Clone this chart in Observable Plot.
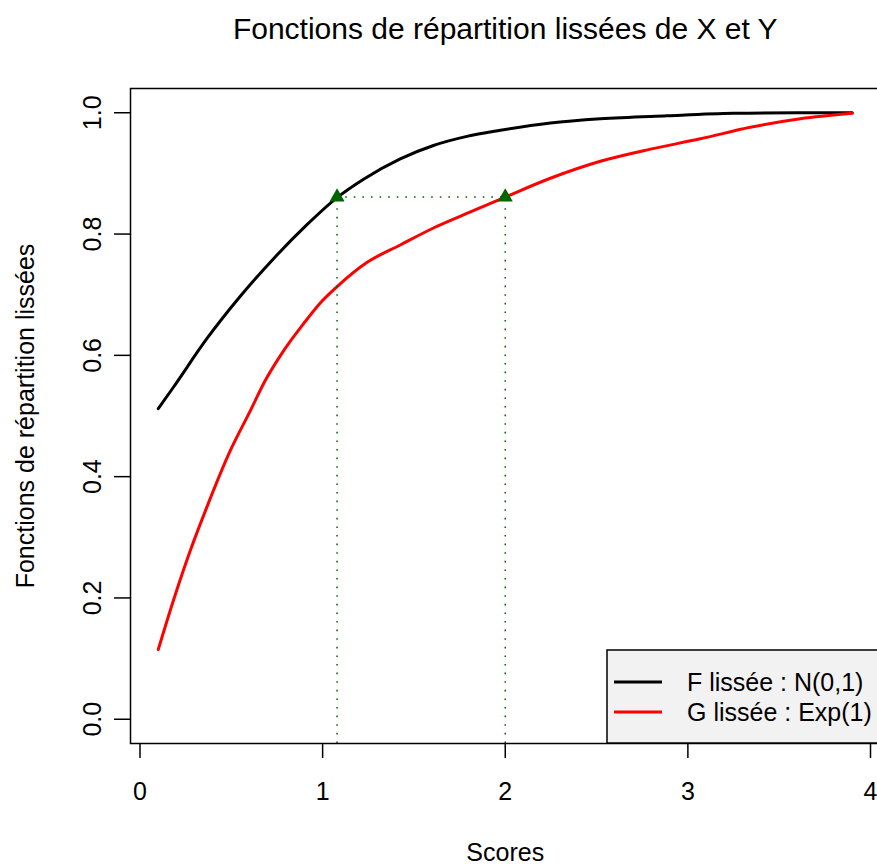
<!DOCTYPE html>
<html>
<head>
<meta charset="utf-8">
<script src="https://cdn.jsdelivr.net/npm/d3@7"></script>
<script src="https://cdn.jsdelivr.net/npm/@observablehq/plot@0.6"></script>
<style>
  html, body { margin: 0; padding: 0; background: white; overflow: hidden; }
  svg { max-width: none !important; }
</style>
</head>
<body>
<div id="chart"></div>
<script>
// Smoothed CDF F (N(0,1))
const Fx = [0.1, 0.182, 0.365, 0.548, 0.73, 0.913, 1.079, 1.222, 1.425, 1.607, 1.79, 1.973, 2.247, 2.521, 2.886, 3.25, 3.6, 3.9];
const Fy = [0.512, 0.547, 0.627, 0.697, 0.759, 0.815, 0.860, 0.890, 0.924, 0.946, 0.961, 0.971, 0.983, 0.990, 0.995, 0.999, 1.0, 1.0];
// Smoothed CDF G (Exp(1))
const Gx = [0.1, 0.182, 0.274, 0.365, 0.493, 0.603, 0.685, 0.785, 0.895, 0.986, 1.078, 1.242, 1.425, 1.607, 1.79, 2.0, 2.247, 2.521, 2.795, 3.068, 3.342, 3.616, 3.9];
const Gy = [0.115, 0.195, 0.277, 0.349, 0.442, 0.508, 0.558, 0.607, 0.652, 0.686, 0.713, 0.753, 0.782, 0.810, 0.834, 0.861, 0.892, 0.920, 0.940, 0.957, 0.976, 0.990, 0.999];
// Quantile comparison points
const qx = [1.079, 2.0];
const qy = 0.861;
// Axes
const xTicks = [0, 1, 2, 3, 4];
const yTicks = [0, 0.2, 0.4, 0.6, 0.8, 1.0];
const ylim = [0, 1];
const legendLabels = ["F lissée : N(0,1)", "G lissée : Exp(1)"];
const legendColors = ["black", "red"];
const titleText = "Fonctions de répartition lissées de X et Y";
const xLabel = "Scores";
const yLabel = "Fonctions de répartition lissées";

const F = Fx.map((x, i) => ({x, y: Fy[i]}));
const G = Gx.map((x, i) => ({x, y: Gy[i]}));

const pad = ([a, b]) => [a - 0.04 * (b - a), b + 0.04 * (b - a)];
const xExt = d3.extent([...Fx, ...Gx]);
const xDomain = pad(xExt);
const yDomain = pad(ylim);

const font = "'Liberation Sans', Arial, Helvetica, sans-serif";

const chart = Plot.plot({
  width: 880,
  height: 864,
  marginLeft: 130,
  marginRight: 0.5,
  marginTop: 88,
  marginBottom: 121,
  style: {fontFamily: font, fontSize: "25px", background: "white", maxWidth: "none", color: "black"},
  x: {domain: xDomain},
  y: {domain: yDomain},
  marks: [
    Plot.line(F, {x: "x", y: "y", stroke: "black", strokeWidth: 3, curve: "monotone-x"}),
    Plot.line(G, {x: "x", y: "y", stroke: "#ff0000", strokeWidth: 3, curve: "monotone-x"}),
    Plot.ruleX(qx, {x: d => d, y1: yDomain[0], y2: qy, stroke: "darkgreen", strokeWidth: 1.5, strokeDasharray: "1.6 7"}),
    Plot.ruleY([qy], {y: d => d, x1: qx[0], x2: qx[1], stroke: "darkgreen", strokeWidth: 1.5, strokeDasharray: "1.6 7"}),
    Plot.dot(qx, {x: d => d, y: qy, symbol: "triangle", fill: "darkgreen", r: 5.6}),
    Plot.frame({stroke: "black", strokeWidth: 1.5}),
    Plot.axisX({ticks: xTicks, tickSize: 15, tickPadding: 24, fontSize: 25, tickFormat: d => String(d), strokeWidth: 1.5, label: null}),
    Plot.axisY({ticks: yTicks, tickSize: 16, tickFormat: () => "", strokeWidth: 1.5, label: null}),
    Plot.text(yTicks, {y: d => d, text: d => d3.format(".1f")(d), frameAnchor: "left", dx: -30, rotate: -90, lineAnchor: "bottom", textAnchor: "middle", fontSize: 25}),
    Plot.text([yLabel], {frameAnchor: "left", dx: -97, rotate: -90, lineAnchor: "bottom", textAnchor: "middle", fontSize: 25}),
    Plot.text([xLabel], {frameAnchor: "bottom", dy: 117, lineAnchor: "bottom", fontSize: 25}),
    Plot.text([titleText], {frameAnchor: "top", dy: -50, lineAnchor: "bottom", fontSize: 30})
  ]
});

document.getElementById("chart").appendChild(chart);

// Legend (bottom-right of plot region, like R's legend("bottomright"))
const xr = chart.scale("x").range;
const yr = chart.scale("y").range;
const right = Math.max(...xr);
const bottom = Math.max(...yr);
const svg = d3.select(chart);
const lg = svg.append("g").attr("font-family", font).attr("font-size", 25).attr("text-anchor", "start");
lg.append("rect")
  .attr("x", right - 272.5).attr("y", bottom - 93)
  .attr("width", 272.5).attr("height", 93)
  .attr("fill", "#f2f2f2").attr("stroke", "black").attr("stroke-width", 1.5);
legendLabels.forEach((lab, i) => {
  const yy = bottom - 61 + i * 30;
  lg.append("line")
    .attr("x1", right - 265.5).attr("x2", right - 217.5)
    .attr("y1", yy).attr("y2", yy)
    .attr("stroke", legendColors[i]).attr("stroke-width", 3);
  lg.append("text")
    .attr("x", right - 192.5).attr("y", yy + 9)
    .attr("text-anchor", "start")
    .attr("fill", "black")
    .text(lab);
});
</script>
</body>
</html>
